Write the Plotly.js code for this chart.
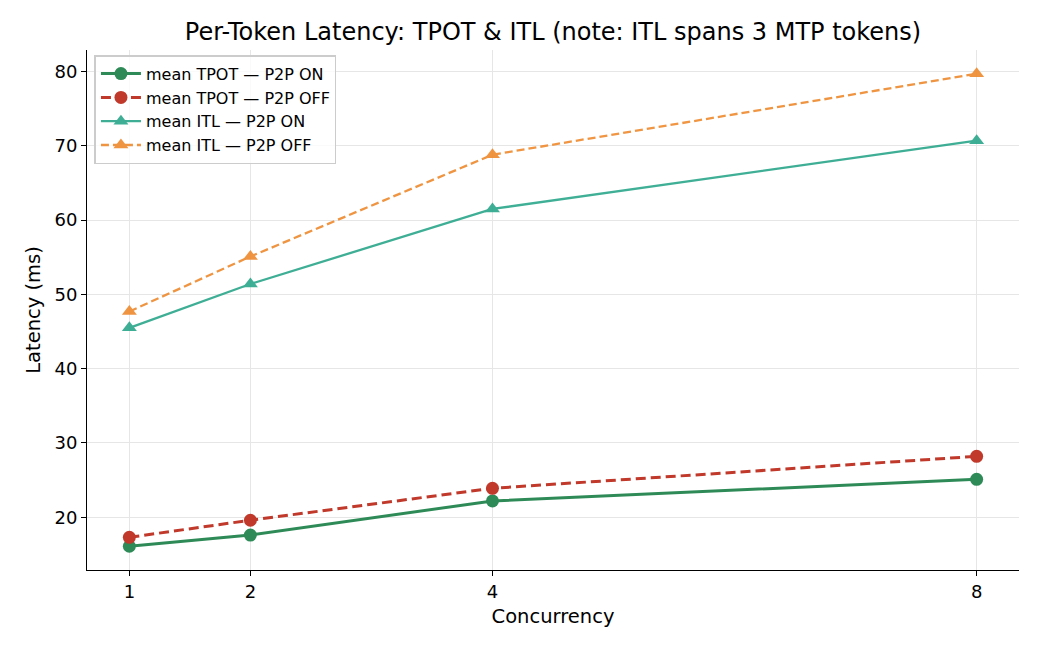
<!DOCTYPE html>
<html>
<head>
<meta charset="utf-8">
<script src="https://cdn.plot.ly/plotly-3.0.1.min.js"></script>
<style>html,body{margin:0;padding:0;background:#fff;}#chart{width:1040px;height:650px;}</style>
</head>
<body>
<div id="chart"></div>
<script>
const concurrency = [1, 2, 4, 8];
const tpotOn = [16.1, 17.6, 22.2, 25.1];
const tpotOff = [17.3, 19.6, 23.9, 28.2];
const itlOn = [45.5, 51.4, 61.5, 70.7];
const itlOff = [47.7, 55.1, 68.8, 79.7];
const seriesNames = ["mean TPOT — P2P ON", "mean TPOT — P2P OFF", "mean ITL — P2P ON", "mean ITL — P2P OFF"];

const font = "DejaVu Sans, sans-serif";
const traces = [
  {x: concurrency, y: tpotOn, name: seriesNames[0], mode: "lines+markers",
   line: {color: "#2e8b57", width: 3}, marker: {symbol: "circle", size: 13, color: "#2e8b57"}},
  {x: concurrency, y: tpotOff, name: seriesNames[1], mode: "lines+markers",
   line: {color: "#c0392b", width: 3, dash: "10px,5px"}, marker: {symbol: "circle", size: 13, color: "#c0392b"}},
  {x: concurrency, y: itlOn, name: seriesNames[2], mode: "lines+markers", opacity: 0.9,
   line: {color: "#2aa68a", width: 2.3}, marker: {symbol: "triangle-up", size: 13, color: "#2aa68a"}},
  {x: concurrency, y: itlOff, name: seriesNames[3], mode: "lines+markers", opacity: 0.9,
   line: {color: "#ee8a2e", width: 2.3, dash: "8px,4px"}, marker: {symbol: "triangle-up", size: 13, color: "#ee8a2e"}}
];

const layout = {
  width: 1040, height: 650,
  margin: {l: 87, r: 21, t: 50, b: 80},
  paper_bgcolor: "#fff", plot_bgcolor: "#fff",
  font: {family: font, size: 18, color: "#000"},
  title: {text: "Per-Token Latency: TPOT & ITL (note: ITL spans 3 MTP tokens)", font: {family: font, size: 24, color: "#000"}, xref: "paper", x: 0.5, xanchor: "center", y: 0.952, yanchor: "middle"},
  xaxis: {
    title: {text: "Concurrency", font: {size: 19.5}, standoff: 8},
    range: [0.65, 8.35], tickvals: concurrency, ticktext: concurrency.map(String),
    showline: true, linecolor: "#000", linewidth: 1, mirror: false,
    ticks: "outside", ticklen: 5, tickcolor: "#000", tickfont: {size: 18},
    showgrid: true, gridcolor: "#e6e6e6", gridwidth: 1, zeroline: false
  },
  yaxis: {
    title: {text: "Latency (ms)", font: {size: 19.5}, standoff: 8},
    range: [12.9, 82.9], tickvals: [20, 30, 40, 50, 60, 70, 80],
    showline: true, linecolor: "#000", linewidth: 1, mirror: false,
    ticks: "outside", ticklen: 5, tickcolor: "#000", tickfont: {size: 18},
    showgrid: true, gridcolor: "#e6e6e6", gridwidth: 1, zeroline: false
  },
  legend: {
    x: 0.008, y: 0.99, xanchor: "left", yanchor: "top",
    bgcolor: "rgba(255,255,255,0.8)", bordercolor: "#cccccc", borderwidth: 1.5,
    font: {family: font, size: 16}, tracegroupgap: 0, itemwidth: 40
  },
  showlegend: true
};

Plotly.newPlot("chart", traces, layout, {displayModeBar: false, staticPlot: true});
</script>
</body>
</html>
